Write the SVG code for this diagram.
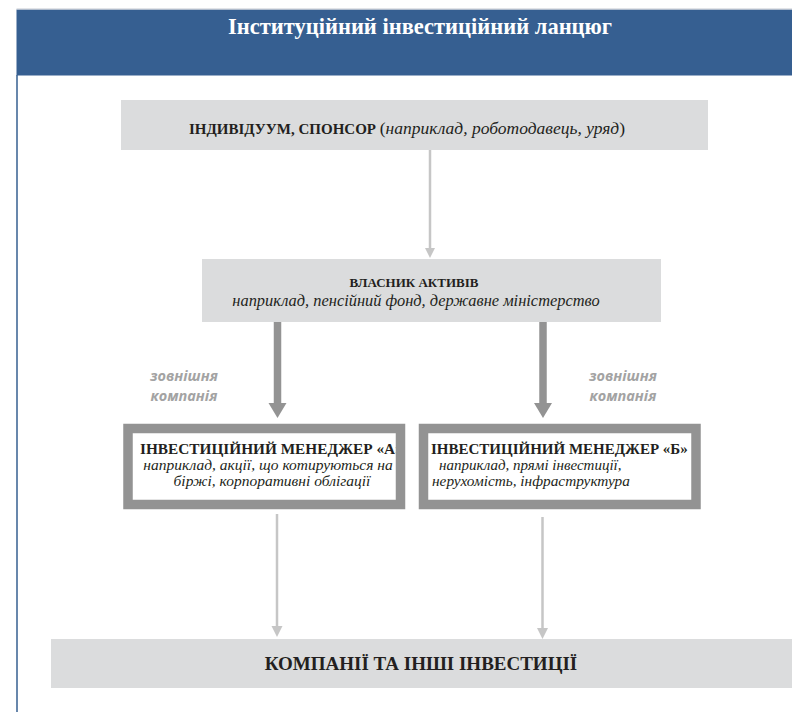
<svg xmlns="http://www.w3.org/2000/svg" width="792" height="712" viewBox="0 0 792 712">
<style>
.serif{font-family:"Liberation Serif","Times New Roman",serif;fill:#231f20}
.b{font-weight:bold}
.i{font-style:italic}
.lbl{font-family:"Open Sans","Liberation Sans",sans-serif;font-weight:bold;font-style:italic;fill:#a3a3a3;font-size:14.5px}
.box{fill:#dbdcdd}
.frame{fill:none;stroke:#939393;stroke-width:9.5}
.thin{stroke:#c6c6c6;stroke-width:2.5;fill:none}
.thick{stroke:#939393;stroke-width:7.5;fill:none}
</style>
<rect width="792" height="712" fill="#ffffff"/>
<g id="header">
<rect x="16.5" y="9.5" width="776" height="66" fill="#365f91"/>
<line x1="16.5" y1="9" x2="792" y2="9" stroke="#c4c8d0" stroke-width="1"/>
<line x1="17" y1="75" x2="17" y2="712" stroke="#365f91" stroke-width="1.5"/>
<text x="420" y="34" text-anchor="middle" font-family="Liberation Serif, serif" font-weight="bold" font-size="22.5" fill="#ffffff">Інституційний інвестиційний ланцюг</text>
</g>
<g id="connectors">
<line class="thin" x1="430" y1="150" x2="430" y2="249"/>
<polygon points="425,248 435,248 430,258" fill="#c6c6c6"/>
<line class="thick" x1="277.5" y1="322" x2="277.5" y2="404"/>
<polygon points="268.5,403 286.5,403 277.5,418" fill="#939393"/>
<line class="thick" x1="543" y1="322" x2="543" y2="404"/>
<polygon points="534,403 552,403 543,418" fill="#939393"/>
<line class="thin" x1="277" y1="514" x2="277" y2="628"/>
<polygon points="271.5,626 282.5,626 277,637" fill="#c6c6c6"/>
<line class="thin" x1="542.5" y1="517" x2="542.5" y2="630"/>
<polygon points="537,628 548,628 542.5,639" fill="#c6c6c6"/>
<text class="lbl" x="184" y="381" text-anchor="middle">зовнішня</text>
<text class="lbl" x="184" y="401" text-anchor="middle">компанія</text>
<text class="lbl" x="623" y="381" text-anchor="middle">зовнішня</text>
<text class="lbl" x="623" y="401" text-anchor="middle">компанія</text>
</g>
<g id="sponsor">
<rect class="box" x="121" y="100" width="587" height="50"/>
<text class="serif" x="407" y="134" text-anchor="middle" font-size="15"><tspan class="b">ІНДИВІДУУМ, СПОНСОР</tspan> <tspan font-size="17.5">(<tspan class="i">наприклад, роботодавець, уряд</tspan>)</tspan></text>
</g>
<g id="owner">
<rect class="box" x="202" y="259" width="459" height="63"/>
<text class="serif b" x="414" y="287" text-anchor="middle" font-size="13">ВЛАСНИК АКТИВІВ</text>
<text class="serif i" x="416" y="306" text-anchor="middle" font-size="16.4">наприклад, пенсійний фонд, державне міністерство</text>
</g>
<g id="managerA">
<rect x="128" y="428.5" width="272.5" height="76" fill="#ffffff"/>
<text class="serif b" x="140" y="454" font-size="15.3">ІНВЕСТИЦІЙНИЙ МЕНЕДЖЕР «А»</text>
<text class="serif i" x="268" y="470" text-anchor="middle" font-size="15.5">наприклад, акції, що котируються на</text>
<text class="serif i" x="272" y="486" text-anchor="middle" font-size="15.5">біржі, корпоративні облігації</text>
<rect class="frame" x="128" y="428.5" width="272.5" height="76"/>
</g>
<g id="managerB">
<rect x="423.5" y="428.5" width="272.5" height="76" fill="#ffffff"/>
<text class="serif b" x="431" y="454" font-size="15">ІНВЕСТИЦІЙНИЙ МЕНЕДЖЕР «Б»</text>
<text class="serif i" x="439" y="470" font-size="15">наприклад, прямі інвестиції,</text>
<text class="serif i" x="432" y="486" font-size="15.3">нерухомість, інфраструктура</text>
<rect class="frame" x="423.5" y="428.5" width="272.5" height="76"/>
</g>
<g id="companies">
<rect class="box" x="51" y="639" width="741" height="49"/>
<text class="serif b" x="421" y="670" text-anchor="middle" font-size="19">КОМПАНІЇ ТА ІНШІ ІНВЕСТИЦІЇ</text>
</g>
</svg>
